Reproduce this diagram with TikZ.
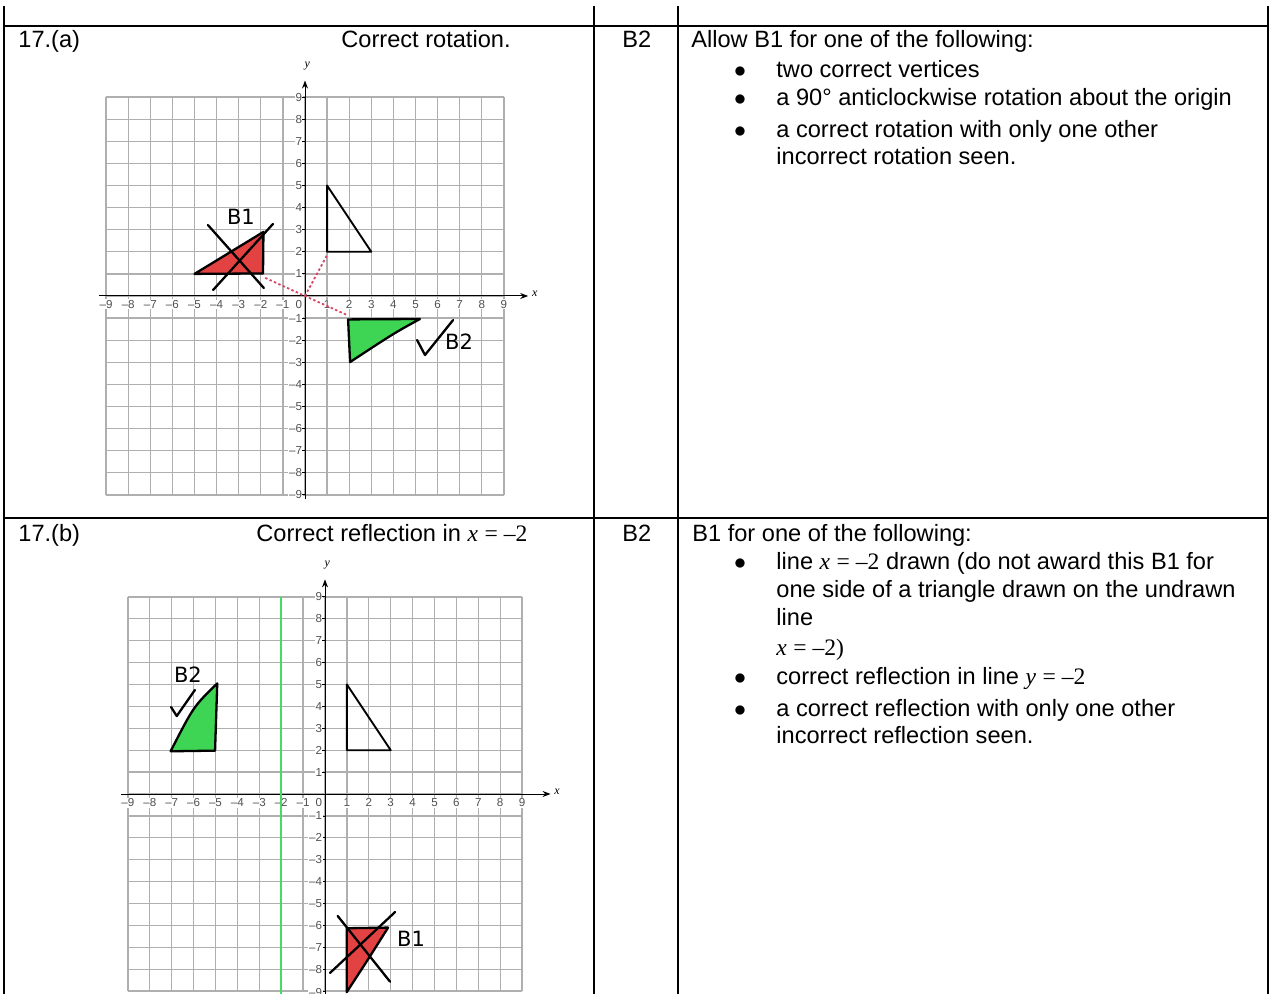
\documentclass[tikz,border=0pt]{standalone}
\usepackage{fontspec}
\setmainfont{Liberation Sans}
\newfontfamily\tms{Liberation Serif}
\newfontfamily\hand{DejaVu Sans}
\usetikzlibrary{arrows.meta}
\definecolor{redfill}{RGB}{226,66,66}
\definecolor{greenfill}{RGB}{62,212,84}
\definecolor{greenline}{RGB}{70,220,95}
\definecolor{dotred}{RGB}{215,70,100}
\definecolor{gridgray}{RGB}{175,175,175}
\definecolor{ticktext}{RGB}{80,80,80}
\newcommand\mth[1]{{\tms\itshape #1}}
\newcommand\mrm[1]{{\tms #1}}
\begin{document}
\begin{tikzpicture}[x=0.5pt,y=-0.5pt,
  rule/.style={line width=1pt,black},
  txt/.style={anchor=base west,inner sep=0pt,font=\fontsize{11.8}{14}\selectfont},
  bul/.style={anchor=base,inner sep=0pt,font=\fontsize{11.8}{14}\selectfont},
  gridl/.style={gridgray,line width=0.65pt},
  axisl/.style={black,line width=0.5pt,-{Stealth[length=4pt,width=3pt]}},
  tick/.style={font=\fontsize{5.8}{6}\selectfont,text=ticktext,fill=white,inner sep=0.4pt},
  pen/.style={black,line width=1.15pt,line join=round,line cap=round},
  handtxt/.style={font=\hand\fontsize{10.5}{11}\selectfont,inner sep=0pt},
  dots/.style={dotred,line width=0.9pt,dash pattern=on 1.2pt off 1.2pt}]
\useasboundingbox (0,0) rectangle (1270,994);
\fill[white] (0,0) rectangle (1270,994);

% ---------- table rules ----------
\draw[rule] (4,26) -- (1268,26);
\draw[rule] (4,518) -- (1268,518);
\draw[rule] (4,6) -- (4,994);
\draw[rule] (594,6) -- (594,994);
\draw[rule] (678,6) -- (678,994);
\draw[rule] (1268,6) -- (1268,994);

% ---------- row (a) text ----------
\node[txt] (qa) at (18,48) {17.(a)};
\node[txt] (ansa) at (341,48) {Correct rotation.};
\node[txt] (marka) at (622,48) {B2};
\node[txt] (ga0) at (691,48) {Allow B1 for one of the following:};
\node[bul] (ba1) at (740,78) {$\bullet$};
\node[txt] (ga1) at (776,78) {two correct vertices};
\node[bul] (ba2) at (740,106) {$\bullet$};
\node[txt] (ga2) at (776,106) {a 90° anticlockwise rotation about the origin};
\node[bul] (ba3) at (740,138) {$\bullet$};
\node[txt] (ga3) at (776,138) {a correct rotation with only one other};
\node[txt] (ga4) at (776,165) {incorrect rotation seen.};

% ---------- row (b) text ----------
\node[txt] (qb) at (18,542) {17.(b)};
\node[txt] (ansb) at (256,542) {Correct reflection in \mth{x} \mrm{= –2}};
\node[txt] (markb) at (622,542) {B2};
\node[txt] (gb0) at (692,542) {B1 for one of the following:};
\node[bul] (bb1) at (740,570) {$\bullet$};
\node[txt] (gb1) at (776,570) {line \mth{x} \mrm{= –2} drawn (do not award this B1 for};
\node[txt] (gb2) at (776,598) {one side of a triangle drawn on the undrawn};
\node[txt] (gb3) at (776,625) {line};
\node[txt] (gb4) at (776,655) {\mth{x} \mrm{= –2)}};
\node[bul] (bb2) at (740,684) {$\bullet$};
\node[txt] (gb5) at (776,684) {correct reflection in line \mth{y} \mrm{= –2}};
\node[bul] (bb3) at (740,716) {$\bullet$};
\node[txt] (gb6) at (776,716) {a correct reflection with only one other};
\node[txt] (gb7) at (776,743) {incorrect reflection seen.};

% ---------- graph (a) ----------
\begin{scope}[shift={(305,296)},x=11.05pt,y=11.05pt]
  \foreach \k in {-9,...,9}{
    \draw[gridl] (\k,-9) -- (\k,9);
    \draw[gridl] (-9,\k) -- (9,\k);
  }
  \draw[axisl] (-9.3,0) -- (10.1,0);
  \draw[axisl] (0,-9.2) -- (0,9.75);
  \foreach \i in {1,...,9}{
    \node[tick] (axp\i) at (\i,-0.38) {\i};
    \node[tick] (axn\i) at (-\i,-0.38) {–\i};
    \node[tick,anchor=east] (ayp\i) at (-0.08,\i) {\i};
    \node[tick,anchor=east] (ayn\i) at (-0.08,-\i) {–\i};
    \draw[black,line width=0.4pt] (-0.12,\i) -- (0,\i) (-0.12,-\i) -- (0,-\i);
  }
  \node[tick,anchor=east] (ao) at (-0.08,-0.38) {0};
  \node[font=\tms\itshape\fontsize{6}{6}\selectfont,inner sep=0pt] (aylab) at (0.1,10.4) {y};
  \node[font=\tms\itshape\fontsize{6}{6}\selectfont,inner sep=0pt] (axlab) at (10.4,0.1) {x};
  % original triangle
  \draw[pen,line width=0.95pt] (1,2) -- (1,5) -- (3,2) -- cycle;
  % dotted construction lines
  \coordinate (aO) at (0,0);
  \coordinate (aP1) at (1,1.85);
  \coordinate (aP2) at (-1.8,0.82);
  \coordinate (aP3) at (1.9,-0.86);
  \draw[dots] (aP2) -- (aO) -- (aP3);
  \draw[dots] (aO) -- (aP1);
  % red (incorrect) triangle
  \filldraw[pen,fill=redfill] (-5,1) -- (-1.9,1.02) -- (-1.88,2.9) -- cycle;
  \draw[pen] (-4.16,0.27) -- (-1.45,3.26);
  \draw[pen] (-4.39,3.21) -- (-1.86,0.36);
  \node[handtxt] (aB1) at (-2.9,3.57) {B1};
  % green (correct) triangle
  \filldraw[pen,fill=greenfill] (1.95,-1.06) -- (5.2,-1.04) .. controls (4,-1.7) .. (2.04,-2.99) -- cycle;
  \draw[pen] (5.07,-1.99) -- (5.43,-2.67) -- (6.7,-1.09);
  \node[handtxt] (aB2) at (6.97,-2.08) {B2};
\end{scope}

% ---------- graph (b) ----------
\begin{scope}[shift={(325,794)},x=10.95pt,y=10.95pt]
  \foreach \k in {-9,...,9}{
    \draw[gridl] (\k,-9) -- (\k,9);
    \draw[gridl] (-9,\k) -- (9,\k);
  }
  \draw[axisl] (-9.3,0) -- (10.3,0);
  \draw[axisl] (0,-9.2) -- (0,9.8);
  \foreach \i in {1,...,9}{
    \node[tick] (bxp\i) at (\i,-0.4) {\i};
    \node[tick] (bxn\i) at (-\i,-0.4) {–\i};
    \node[tick,anchor=east] (byp\i) at (-0.08,\i) {\i};
    \draw[black,line width=0.4pt] (-0.12,\i) -- (0,\i) (-0.12,-\i) -- (0,-\i);
  }
  \foreach \i in {1,...,8}{
    \node[tick,anchor=east] (byn\i) at (-0.08,-\i) {–\i};
  }
  \node[tick,anchor=east] (byn9) at (-0.08,-9.05) {–9};
  \node[tick,anchor=east] (bo) at (-0.08,-0.4) {0};
  \node[font=\tms\itshape\fontsize{6}{6}\selectfont,inner sep=0pt] (bylab) at (0.1,10.45) {y};
  \node[font=\tms\itshape\fontsize{6}{6}\selectfont,inner sep=0pt] (bxlab) at (10.6,0.1) {x};
  % mirror line x = -2
  \coordinate (mTop) at (-2,9);
  \coordinate (mBot) at (-2,-9.2);
  \draw[greenline,line width=1.1pt] (mTop) -- (mBot);
  % original triangle
  \draw[pen,line width=0.95pt] (1,2) -- (1,5) -- (3,2) -- cycle;
  % green (correct) triangle
  \filldraw[pen,fill=greenfill] (-7.05,1.95) -- (-5.02,1.98) -- (-4.92,5.05) .. controls (-6,4) .. cycle;
  \draw[pen] (-7.03,3.97) -- (-6.77,3.56) -- (-5.94,4.75);
  \node[handtxt] (bB2) at (-6.26,5.43) {B2};
  % red (incorrect) triangle
  \filldraw[pen,fill=redfill] (0.99,-6.13) -- (2.88,-6.1) .. controls (2,-7.5) .. (0.99,-9.05) -- cycle;
  \draw[pen] (0.23,-8.17) -- (3.2,-5.39);
  \draw[pen] (0.58,-5.57) -- (2.97,-8.57);
  \node[handtxt] (bB1) at (3.93,-6.62) {B1};
\end{scope}
\end{tikzpicture}
\end{document}
